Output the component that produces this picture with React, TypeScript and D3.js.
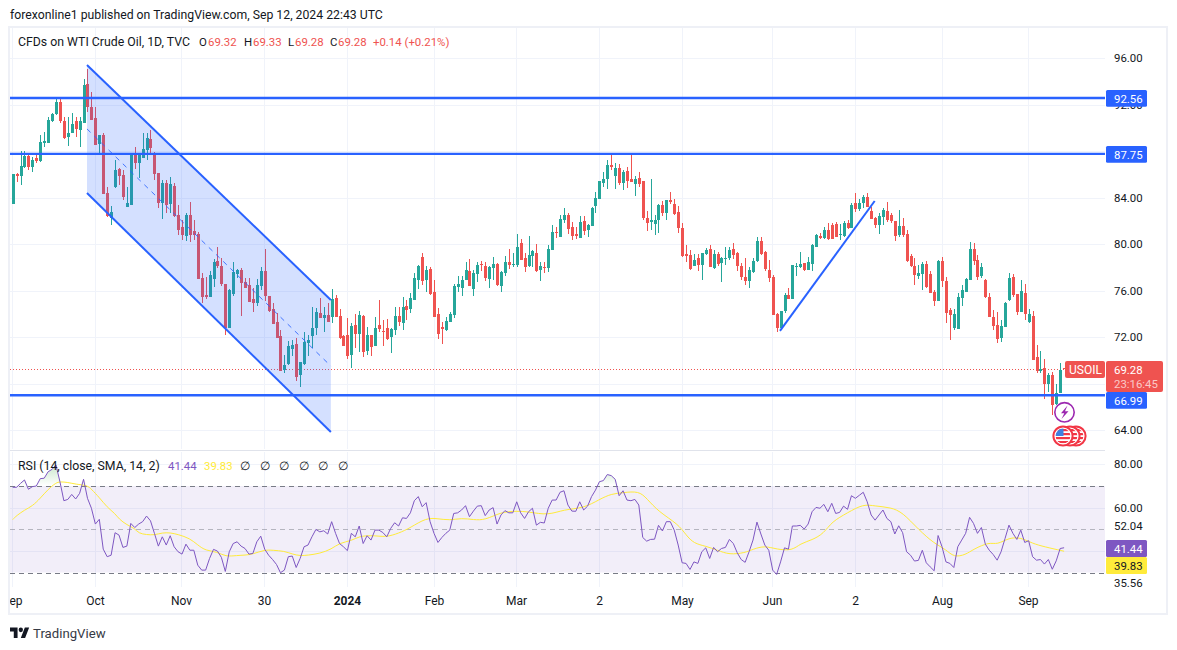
import React from "react";
import * as d3 from "d3";

const opens = [
83.44,86.02,85.85,86.65,87.57,86.60,87.37,87.17,88.72,88.72,
90.61,91.18,92.22,90.58,89.23,89.52,90.61,89.81,90.44,93.77,
91.76,90.84,88.60,89.38,84.42,82.21,84.88,86.43,85.94,83.16,
83.36,87.74,87.00,87.37,88.09,89.03,87.80,86.08,83.56,85.28,
83.44,85.00,82.50,81.49,80.69,82.50,81.15,80.86,77.07,75.64,
75.41,76.99,78.56,78.10,76.55,72.80,75.70,77.42,77.76,76.73,
76.47,75.29,74.95,76.41,77.67,75.52,74.41,73.26,72.08,69.16,
69.67,70.96,71.39,68.73,69.67,71.45,72.08,72.80,74.03,73.66,
73.89,73.75,75.35,73.80,72.08,72.17,70.48,73.03,72.28,73.80,
70.82,72.17,71.25,73.03,72.51,72.77,72.03,72.60,73.80,73.21,
74.67,74.41,75.19,76.91,78.89,76.91,77.85,75.88,73.98,72.87,
72.61,73.30,73.90,76.31,76.22,76.91,77.68,76.13,77.42,78.28,
78.11,76.99,77.94,78.28,76.39,77.51,78.46,78.20,78.20,80.09,
78.80,78.11,78.97,79.23,77.77,78.03,77.94,79.49,81.04,80.61,
82.07,82.50,81.47,80.87,80.52,81.98,81.21,81.55,83.27,83.88,
85.25,85.60,86.80,85.85,86.54,85.25,86.28,85.60,85.17,85.68,
85.42,82.24,81.90,81.72,82.07,83.36,82.67,83.79,83.45,82.76,
81.38,79.14,79.06,78.11,78.80,78.20,79.14,79.57,77.94,79.14,
78.37,78.71,78.80,79.57,79.23,78.11,77.20,76.82,77.63,78.54,
80.26,79.35,77.77,77.20,73.98,72.78,74.24,75.62,75.30,78.06,
78.06,78.34,77.77,78.28,79.78,80.69,80.49,81.21,81.64,81.70,
80.75,80.69,81.78,81.35,83.50,82.99,83.56,84.02,82.87,82.24,
81.64,82.30,82.81,82.47,81.95,80.78,81.55,80.87,78.97,78.11,
77.28,77.42,78.28,77.42,75.88,75.13,78.57,76.85,74.33,72.75,
72.69,75.33,75.91,76.91,79.58,78.63,77.25,76.91,75.42,73.76,
73.04,71.89,72.90,75.19,77.20,75.70,74.19,75.82,73.33,73.81,
70.31,69.05,69.34,67.96,68.74,66.24,67.22,69.32];

const highs = [
86.02,86.08,88.03,88.03,87.75,87.51,87.66,89.38,89.67,90.96,
91.24,92.45,92.62,90.96,90.96,91.24,90.90,90.90,94.17,95.06,
93.11,91.82,89.38,89.52,84.88,83.27,87.23,86.51,86.37,84.94,
87.80,88.38,87.80,89.52,89.52,89.81,87.95,86.14,85.51,85.51,
85.79,85.28,83.36,82.07,82.64,83.64,82.07,81.00,77.47,77.13,
77.67,78.68,79.71,78.76,76.55,76.10,78.45,77.82,77.90,77.04,
77.04,76.18,76.96,77.99,79.57,75.52,74.95,74.03,72.60,70.45,
71.68,71.74,71.88,69.88,72.40,72.17,74.55,74.46,75.32,74.55,
74.89,76.13,75.58,74.38,72.17,73.60,73.17,73.98,74.23,73.89,
72.83,72.17,73.75,75.18,73.46,73.55,72.74,74.55,74.55,75.42,
75.19,75.76,77.48,78.20,79.23,78.11,78.06,76.91,74.53,73.33,
73.75,74.16,76.56,77.25,77.25,78.49,78.71,77.77,78.46,78.54,
78.46,78.11,78.89,78.37,77.68,78.97,79.57,79.26,80.86,80.43,
79.20,80.69,79.49,80.00,78.46,78.46,79.89,81.64,81.50,82.50,
83.10,82.64,81.90,81.47,82.41,82.41,81.73,83.19,84.48,85.42,
86.20,87.23,87.66,86.94,86.89,86.37,86.63,87.66,85.85,86.20,
85.42,82.84,85.60,82.50,83.45,83.70,83.79,84.48,83.88,83.27,
81.78,79.92,79.49,79.14,79.14,79.20,79.63,79.92,79.49,79.32,
78.92,79.78,79.78,80.06,79.32,78.34,78.77,78.00,78.77,80.64,
80.58,79.43,78.63,77.34,74.10,74.27,75.76,76.19,78.23,78.34,
79.32,78.40,78.86,80.01,80.84,80.92,81.50,81.78,81.78,81.87,
81.70,82.01,82.07,83.56,84.42,83.85,84.22,84.42,83.22,82.30,
82.64,83.07,83.65,82.64,81.95,82.93,82.21,81.21,79.14,78.77,
78.20,78.49,78.57,77.71,76.05,78.63,78.86,77.20,74.47,74.39,
75.82,76.48,77.05,80.21,80.12,79.06,78.40,76.97,75.76,74.33,
74.19,73.47,75.04,77.54,77.42,75.70,76.91,76.56,74.39,74.24,
71.32,70.80,70.11,68.94,69.02,67.96,69.80,69.33];

const lows = [
83.44,85.36,85.08,86.51,86.37,86.23,86.94,87.08,88.38,88.66,
90.53,91.10,90.38,89.01,88.46,89.52,89.18,88.32,90.44,91.39,
90.67,88.52,87.80,84.28,82.35,81.64,84.79,85.08,83.79,83.16,
83.36,86.45,85.65,87.37,87.23,87.66,85.51,83.07,82.18,82.64,
82.64,82.35,80.78,80.35,80.29,80.20,80.35,76.99,74.95,75.24,
75.41,76.33,77.90,76.41,72.17,72.80,75.52,77.04,73.80,76.18,
75.01,74.18,74.66,76.04,75.12,74.18,73.11,71.88,69.10,68.87,
69.56,70.36,68.21,67.72,69.59,70.36,71.02,72.17,73.60,72.46,
73.32,73.23,73.69,71.80,71.22,70.10,69.36,71.08,70.74,70.25,
70.45,70.36,71.25,72.46,71.25,71.74,70.65,72.17,72.94,72.61,
73.47,74.04,75.19,76.13,76.48,75.88,75.62,73.73,71.83,71.40,
72.49,73.30,73.67,75.88,75.53,76.91,76.39,75.53,76.71,77.68,
76.82,76.22,76.91,76.39,75.88,77.25,77.85,78.03,78.03,78.63,
77.60,78.03,78.03,77.60,76.82,77.51,77.60,79.49,80.52,80.61,
81.81,80.87,80.35,80.43,80.52,80.78,80.61,81.55,82.70,83.88,
84.88,84.74,86.37,84.74,85.08,84.65,84.82,85.34,84.13,84.91,
82.07,81.12,81.21,80.78,80.95,82.41,82.07,83.45,82.50,80.95,
78.92,78.46,77.77,78.11,77.68,76.91,79.06,78.03,77.85,78.11,
76.74,78.20,78.63,78.71,77.68,76.91,76.48,76.25,77.54,78.49,
79.06,77.71,76.77,73.90,72.47,72.75,74.10,75.25,75.30,77.25,
77.91,77.71,77.77,77.71,79.78,80.41,80.41,80.35,80.41,80.58,
80.35,80.58,81.27,81.35,82.79,82.87,83.07,83.16,82.13,81.35,
80.87,81.64,81.93,81.78,80.29,80.58,80.58,78.49,78.00,76.48,
76.97,76.05,76.19,75.76,74.67,75.13,76.34,73.18,71.75,72.61,
72.69,74.67,75.91,76.91,78.20,76.91,77.05,75.33,73.70,72.61,
71.52,71.60,72.90,75.13,75.48,73.90,74.19,73.47,73.18,70.03,
68.88,68.88,66.66,67.30,65.30,66.16,67.22,69.28];

const closes = [
86.02,85.88,86.71,87.57,86.60,87.23,87.17,88.78,88.89,90.67,
91.16,92.22,90.61,89.15,89.52,90.32,89.87,90.61,93.68,91.76,
90.67,88.55,89.38,84.30,82.41,82.78,86.37,85.88,84.02,83.56,
87.74,87.00,87.74,88.15,89.09,88.26,86.02,83.56,85.28,83.36,
85.16,82.41,81.21,80.78,82.50,80.78,80.78,76.99,75.47,75.47,
77.33,78.48,78.10,76.53,72.80,76.04,77.62,77.76,76.67,76.21,
75.01,74.95,76.44,77.67,75.52,74.26,73.11,71.94,69.10,69.59,
71.22,71.31,68.59,69.82,71.57,71.74,72.77,74.15,73.66,73.89,
73.32,75.27,73.75,71.94,71.25,70.39,72.94,72.25,73.89,70.74,
72.17,71.17,72.77,72.69,72.43,71.80,72.71,73.80,73.32,74.59,
74.33,75.36,77.08,78.11,76.82,77.77,75.70,73.73,72.26,72.69,
73.38,73.98,76.39,76.56,76.91,77.77,76.39,77.51,78.20,78.20,
77.08,78.03,78.28,76.48,77.60,78.46,78.20,78.28,79.75,78.63,
78.03,79.06,79.40,77.68,78.11,77.94,79.57,81.04,80.95,82.16,
82.50,81.30,80.69,80.69,81.90,81.12,81.67,83.10,83.96,85.39,
85.60,86.80,86.63,86.54,85.25,86.20,85.42,85.34,85.60,85.17,
82.24,81.81,82.07,82.07,83.36,82.67,83.79,83.62,82.58,81.38,
78.97,78.97,77.85,78.63,78.20,79.20,79.49,78.03,79.14,78.28,
78.80,78.80,79.49,79.06,78.11,77.20,76.85,77.77,78.54,80.26,
79.14,77.83,77.11,73.90,72.78,74.21,75.62,75.28,78.20,78.14,
78.28,77.77,78.49,79.92,80.78,80.49,81.21,80.41,80.46,80.64,
80.87,81.78,81.35,83.33,82.99,83.56,84.02,83.22,82.18,81.64,
82.41,82.93,82.07,81.95,80.69,81.55,80.78,78.54,78.11,77.34,
77.48,78.28,76.28,75.82,75.13,78.57,76.85,74.10,73.90,73.98,
75.42,76.03,76.97,79.58,78.57,77.20,78.00,75.42,73.76,72.95,
71.81,72.95,74.96,77.08,75.62,74.19,75.96,73.98,73.98,70.03,
69.11,69.28,67.96,68.74,66.16,67.22,69.14,69.28];

const rsiValues = [
69.4,69.4,71.2,72.8,68.5,69.7,70,73.4,73.6,76.6,
77.7,79.7,72,63.2,63.8,66.1,64,66.6,73.1,64.3,
59.7,52.4,54.6,40.8,37.3,38,48.4,47.3,41.6,42.2,
52.7,50.8,52.4,53.5,56.1,53.9,48.1,42.2,46.5,42.7,
47,41.9,39.6,38.5,43.1,40.3,40.3,33.4,31.1,31.1,
36.5,40.7,39.9,37,30.5,39.6,43.4,44.2,42.2,41.1,
38.5,38.8,44.2,46.8,40.8,38,36,33.7,29.9,31.1,
37.3,37.6,32.3,36.5,41.9,42.7,46.5,49.9,48.8,49.3,
47.8,53.5,48.1,43.4,41.9,40.1,48.1,46.5,51.5,43.4,
47,45,49.6,49.6,48.5,46.5,50.4,53,51.5,55.3,
55,57.6,63.2,65.1,60.4,62.3,53.5,48.1,43.9,46.2,
48.1,49.6,57.3,57.6,58.9,60.9,55.8,58.4,60.7,60.9,
56.3,58.9,60,52.4,56.6,58.6,57.6,57.6,62.7,57.6,
55,58.1,59.7,51.9,53.2,52.9,59.7,63.5,63.5,67.1,
67.8,61.2,58.4,58.3,62.7,58.9,60.7,65.1,68.1,72,
72.5,75.3,74.8,73.1,65.5,67.8,63.5,63.2,63.8,61.2,
46.2,44.5,45.3,45.4,51.8,49.2,53.5,53.5,49.6,42.7,
34.5,34.2,31.4,34.9,34.2,39.6,41.4,36.5,41.6,39.6,
41.1,41.6,45.3,43.4,39.1,36,34.7,39.6,45,53.3,
47.8,42.7,40.3,31.1,29.1,34.9,41.4,40.8,51.5,51.5,
51.8,50.1,52.4,58.1,60.1,59.7,61.5,58.1,62,57.3,
57.8,60.7,59.2,65.5,64.3,65.7,67.1,62.7,56.6,54.2,
56.6,58.9,55,53.5,47.8,51.6,48.4,39.6,38,35.3,
35.6,40.3,34.5,32.6,30.8,47.1,41.9,34.9,34.2,32.3,
41.9,45,48.1,55.5,52.7,48.1,50.8,43.1,40.3,38.3,
35.7,39.6,45.7,51.9,48.1,45.3,49.6,43.9,44.7,37.3,
35.7,36,33.9,36,31.5,35.4,41.1,41.44];

const smaBars = [0,1,3,5,7,9,11,12,14,16,19,20,22,24,26,27,29,31,32,34,36,38,40,42,45,47,49,52,54,57,59,61,64,66,69,71,73,75,78,81,83,86,88,91,93,95,98,101,105,108,111,114,117,120,124,128,131,136,140,145,149,152,155,159,161,164,169,171,173,176,179,182,186,188,191,194,198,200,203,206,208,212,216,219,223,226,230,234,237,239,242,244,248,250,253,256,259,262,267];
const smaValues = [54.5,56.3,58.9,60.7,64.3,68.5,71.5,72,71.7,70.8,70.3,68.5,64.7,60.1,57.3,54.7,52,50.4,48.1,47.5,47.3,48.4,48.4,47.6,45.8,42.7,40.1,39.6,37.3,37.9,38,38.5,40.5,40.3,39.9,38.5,37.7,38,38.8,40.8,43.7,44.6,46.8,47.1,46.8,46.5,48.1,50.7,55.3,54.9,54.1,55.2,54.4,54.2,58,58.4,58.1,56.4,59.2,59.7,63.8,66.4,66.9,67.7,64.3,58.1,52.4,47.3,43.4,42.2,40.3,38.2,39.1,40.8,42.4,40.7,40.1,43.4,45,48.1,53.5,57.6,61.7,60.7,60.1,57.8,49.9,43.4,40.7,37,38.2,40.8,44.1,42.8,46.1,46.2,43.4,41.9,39.83];

const gridPrices = [96, 92, 88, 84, 80, 76, 72, 68, 64];
const priceTickLabels = [96, 92, 84, 80, 76, 72, 64];
const rsiTicks = [80, 60, 40];
const rsiTickLabels = [80, 60];
const hLevels = [92.56, 87.75, 66.99];
const hLabelTops = [90, 146, 392];
const monthLabels = ["Sep", "Oct", "Nov", "30", "2024", "Feb", "Mar", "2", "May", "Jun", "2", "Aug", "Sep"];
const channelBars = [18.87, 80.8];
const channelTop = [95.4, 75.18];
const channelMid = [89.9, 69.5];
const channelBottom = [84.39, 63.83];
const trendBars = [194.85, 218.9];
const trendPrices = [72.52, 83.7];
const lastPrice = 69.28;
const fontFam = "Roboto, sans-serif";

const UP = "#26a69a", DOWN = "#ef5350", BLUE = "#2962ff", GRID = "#f0f3fa", TEXT = "#131722";
const NUM = 11.4;
const WORD = 12.3;

const X0 = 10, X1 = 1105;
const xBar = d3.scaleLinear().domain([0, 267]).range([12.67, 1064.1]);
const yP = d3.scaleLinear().domain([64, 96]).range([430, 58]);
const yR = d3.scaleLinear().domain([30, 70]).range([572.5, 486]);
const monthXs = [12.5, 95.5, 181.5, 264.5, 347.5, 434.5, 516.5, 599.5, 682.5, 772.5, 855.5, 942.5, 1028.5];

function Flag({ cx, cy, top }: { cx: number; cy: number; top: boolean }) {
  const id = "fc" + cx;
  return (
    <g>
      <circle cx={cx} cy={cy} r={9.6} fill="#fff" stroke="#f23645" strokeWidth={2} />
      <clipPath id={id}><circle cx={cx} cy={cy} r={7.4} /></clipPath>
      <g clipPath={`url(#${id})`}>
        {[0, 1, 2, 3].map((i) => (
          <rect key={i} x={cx - 8} y={cy - 7 + i * 4} width={16} height={2.2} fill="#f23645" />
        ))}
        {top && <rect x={cx - 8} y={cy - 8} width={8.5} height={8} fill="#3f7fe0" />}
      </g>
    </g>
  );
}

export default function App() {
  const n = opens.length;
  const rsiLine = d3.line<number>().x((_, i) => xBar(i)).y((d) => yR(d))(rsiValues) as string;
  const smaLine = d3.line<number>().x((_, i) => xBar(smaBars[i])).y((d) => yR(d)).curve(d3.curveBasis)(smaValues) as string;
  const obArea = d3.area<number>().x((_, i) => xBar(i)).y0(yR(70)).y1((d) => yR(Math.max(d, 70)))(rsiValues) as string;
  const chPoly = [
    [xBar(channelBars[0]), yP(channelTop[0])],
    [xBar(channelBars[1]), yP(channelTop[1])],
    [xBar(channelBars[1]), yP(channelBottom[1])],
    [xBar(channelBars[0]), yP(channelBottom[0])],
  ].map((p) => p.join(",")).join(" ");

  return (
    <svg width={1177} height={650} style={{ position: "absolute", left: 0, top: 0, background: "#fff" }} fontFamily={fontFam}>
      <defs>
        <clipPath id="plot"><rect x={X0} y={28} width={X1 - X0} height={559} /></clipPath>
        <clipPath id="axis"><rect x={X0} y={588} width={X1 - X0} height={25} /></clipPath>
        <linearGradient id="ob" gradientUnits="userSpaceOnUse" x1={0} y1={yR(80)} x2={0} y2={yR(70)}>
          <stop offset="0" stopColor="#4caf50" stopOpacity={0.3} />
          <stop offset="1" stopColor="#4caf50" stopOpacity={0} />
        </linearGradient>
      </defs>

      <text x={10} y={19} fontSize={12.25} fill={TEXT}>forexonline1 published on TradingView.com, Sep 12, 2024 22:43 UTC</text>

      {/* grid */}
      {monthXs.map((x, i) => (
        <g key={i}>
          <line x1={x} x2={x} y1={28} y2={449} stroke={GRID} />
          <line x1={x} x2={x} y1={452} y2={587} stroke={GRID} />
        </g>
      ))}
      {gridPrices.map((t) => (
        <line key={t} x1={X0} x2={X1} y1={Math.round(yP(t)) + 0.5} y2={Math.round(yP(t)) + 0.5} stroke={GRID} />
      ))}
      {rsiTicks.map((t) => (
        <line key={t} x1={X0} x2={X1} y1={Math.round(yR(t)) + 0.5} y2={Math.round(yR(t)) + 0.5} stroke={GRID} />
      ))}

      {/* rsi pane */}
      <g clipPath="url(#plot)">
        <rect x={X0} y={yR(70)} width={X1 - X0} height={yR(30) - yR(70)} fill="#7e57c2" fillOpacity={0.1} />
        {[70, 50, 30].map((t) => (
          <line key={t} x1={X0} x2={X1} y1={Math.round(yR(t)) + 0.5} y2={Math.round(yR(t)) + 0.5}
            stroke="#787b86" strokeOpacity={t === 50 ? 0.5 : 1} strokeDasharray="5 4" />
        ))}
        <path d={obArea} fill="url(#ob)" />
        <path d={smaLine} fill="none" stroke="#ffeb3b" strokeWidth={1} />
        <path d={rsiLine} fill="none" stroke="#7e57c2" strokeWidth={1} />
      </g>

      {/* last price line */}
      <line x1={X0} x2={1065} y1={Math.round(yP(lastPrice)) + 0.5} y2={Math.round(yP(lastPrice)) + 0.5} stroke={DOWN} strokeDasharray="1 2" />

      {/* candles */}
      <g clipPath="url(#plot)" shapeRendering="crispEdges">
        {d3.range(n).map((i) => {
          const up = closes[i] >= opens[i];
          const c = up ? UP : DOWN;
          const x = Math.round(xBar(i));
          const top = Math.max(opens[i], closes[i]);
          const bot = Math.min(opens[i], closes[i]);
          return (
            <g key={i} fill={c}>
              <rect x={x} y={yP(highs[i])} width={1} height={Math.max(1, yP(lows[i]) - yP(highs[i]))} />
              <rect x={x - 1} y={yP(top)} width={3} height={Math.max(1, yP(bot) - yP(top))} />
            </g>
          );
        })}
      </g>

      {/* drawings */}
      <polygon points={chPoly} fill={BLUE} fillOpacity={0.2} />
      <line x1={xBar(channelBars[0])} x2={xBar(channelBars[1])} y1={yP(channelTop[0])} y2={yP(channelTop[1])} stroke={BLUE} strokeWidth={2} />
      <line x1={xBar(channelBars[0])} x2={xBar(channelBars[1])} y1={yP(channelBottom[0])} y2={yP(channelBottom[1])} stroke={BLUE} strokeWidth={2} />
      <line x1={xBar(channelBars[0])} x2={xBar(channelBars[1])} y1={yP(channelMid[0])} y2={yP(channelMid[1])} stroke={BLUE} strokeWidth={1} strokeDasharray="5 5" strokeOpacity={0.85} />
      <line x1={xBar(trendBars[0])} x2={xBar(trendBars[1])} y1={yP(trendPrices[0])} y2={yP(trendPrices[1])} stroke={BLUE} strokeWidth={2} />
      {hLevels.map((l) => (
        <line key={l} x1={X0} x2={X1} y1={yP(l)} y2={yP(l)} stroke={BLUE} strokeWidth={2.4} />
      ))}

      {/* event markers */}
      <Flag cx={1076} cy={436} top={false} />
      <Flag cx={1070} cy={436} top={false} />
      <Flag cx={1063} cy={436} top={true} />
      <circle cx={1064.5} cy={412.3} r={9.7} fill="#fff" stroke="#9c27b0" strokeWidth={1.6} />
      <path d="M1067.5 405.5 L1061 413.2 L1064.3 413.2 L1061.5 419 L1068.5 411.2 L1065 411.2 Z" fill="#9c27b0" />

      {/* frame */}
      <line x1={10} x2={1105} y1={450.5} y2={450.5} stroke="#e0e3eb" />
      <rect x={9} y={27} width={1158} height={587} fill="none" stroke="#eef0f6" strokeWidth={2} />

      {/* x axis */}
      <g clipPath="url(#axis)" fontSize={12} fill={TEXT} textAnchor="middle">
        {monthLabels.map((m, i) => (
          <text key={i} x={monthXs[i]} y={605} fontWeight={m === "2024" ? 700 : 400}>{m}</text>
        ))}
      </g>

      {/* price axis */}
      <g fontSize={NUM} fill={TEXT} textAnchor="start">
        {priceTickLabels.map((t) => (
          <text key={t} x={1114} y={yP(t) + 4}>{t.toFixed(2)}</text>
        ))}
        {rsiTickLabels.map((t) => (
          <text key={t} x={1114} y={yR(t) + 4}>{t.toFixed(2)}</text>
        ))}
        <text x={1114} y={530}>52.04</text>
        <text x={1114} y={586.7}>35.56</text>
      </g>

      {hLevels.map((l, i) => (
        <g key={l}>
          <rect x={1106} y={hLabelTops[i]} width={41} height={16.7} rx={1.5} fill={BLUE} />
          <text x={1114} y={hLabelTops[i] + 12.7} fontSize={NUM} fill="#fff">{l.toFixed(2)}</text>
        </g>
      ))}

      <rect x={1065} y={361} width={40} height={17} rx={2} fill={DOWN} />
      <text x={1069} y={373.6} fontSize={12} fill="#fff">USOIL</text>
      <rect x={1106} y={361} width={57} height={31} rx={2} fill={DOWN} />
      <text x={1114} y={373.5} fontSize={NUM} fill="#fff">69.28</text>
      <text x={1114} y={387.5} fontSize={NUM} fill="#fff" fillOpacity={0.7}>23:16:45</text>

      {/* rsi value boxes */}
      <rect x={1106} y={540} width={41} height={17} rx={1.5} fill="#7e57c2" />
      <text x={1114} y={552.8} fontSize={NUM} fill="#fff">41.44</text>
      <rect x={1106} y={557} width={41} height={17} rx={1.5} fill="#ffeb3b" />
      <text x={1114} y={570} fontSize={NUM} fill={TEXT}>39.83</text>

      {/* legends */}
      <g fontSize={NUM}>
        <text x={18} y={46} fill={TEXT} fontSize={WORD}>CFDs on WTI Crude Oil, 1D, TVC</text>
        <text x={199} y={46} fill={TEXT}>O</text><text x={208} y={46} fill={DOWN}>69.32</text>
        <text x={244} y={46} fill={TEXT}>H</text><text x={253} y={46} fill={DOWN}>69.33</text>
        <text x={288} y={46} fill={TEXT}>L</text><text x={295} y={46} fill={DOWN}>69.28</text>
        <text x={330} y={46} fill={TEXT}>C</text><text x={338} y={46} fill={DOWN}>69.28</text>
        <text x={373} y={46} fill={DOWN}>+0.14 (+0.21%)</text>
        <text x={18} y={470} fill={TEXT} fontSize={WORD}>RSI (14, close, SMA, 14, 2)</text>
        <text x={168} y={470} fill="#7e57c2">41.44</text>
        <text x={204} y={470} fill="#ffeb3b">39.83</text>
        {[245, 265, 284, 304, 323, 343].map((x) => (
          <text key={x} x={x} y={470} fill={TEXT} fontSize={12} textAnchor="middle">∅</text>
        ))}
      </g>

      {/* logo */}
      <g transform="translate(10,625.2) scale(0.54,0.58)" fill="#131722">
        <path d="M14 22H7V11H0V4h14v18zM28 22h-8l7.5-18h8L28 22z" />
        <circle cx={20} cy={8} r={4} />
      </g>
      <text x={33} y={637.5} fontSize={13.2} fill="#363a45">TradingView</text>
    </svg>
  );
}
